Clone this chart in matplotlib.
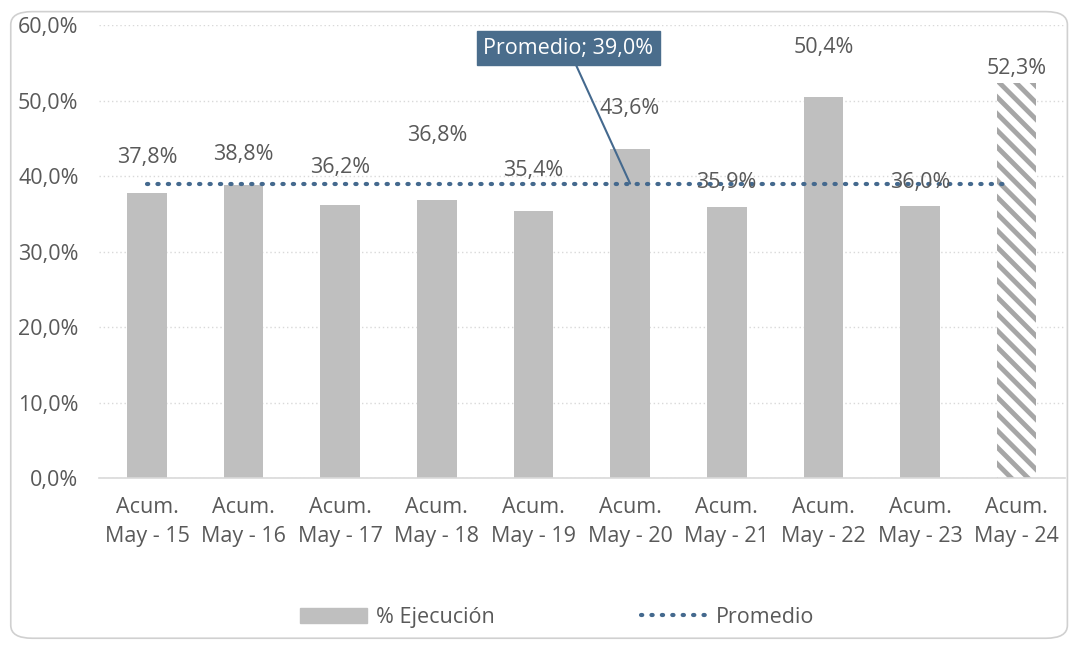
import matplotlib.pyplot as plt
from matplotlib.patches import FancyBboxPatch, Patch
from matplotlib.lines import Line2D

plt.rcParams['font.family'] = ['Open Sans', 'DejaVu Sans']
plt.rcParams['hatch.linewidth'] = 3.5
plt.rcParams['hatch.color'] = '#a6a6a6'

# ---------------- datos ---------------- #
periodos = ['Acum.\nMay - 15', 'Acum.\nMay - 16', 'Acum.\nMay - 17', 'Acum.\nMay - 18',
            'Acum.\nMay - 19', 'Acum.\nMay - 20', 'Acum.\nMay - 21', 'Acum.\nMay - 22',
            'Acum.\nMay - 23', 'Acum.\nMay - 24']
ejecucion = [37.8, 38.8, 36.2, 36.8, 35.4, 43.6, 35.9, 50.4, 36.0, 52.3]
promedio = 39.0
# altura donde Excel dejó cada etiqueta
altura_etiqueta = [42.4, 42.8, 41.1, 45.4, 40.7, 49.0, 39.1, 57.0, 39.1, 54.3]

gris = '#bfbfbf'
azul = '#44698e'
texto = '#595959'
fs = 15.5

fig = plt.figure(figsize=(10.76, 6.46), dpi=100)
marco = FancyBboxPatch((0.01, 0.012), 0.982, 0.97, boxstyle='round,pad=0,rounding_size=0.02',
                       transform=fig.transFigure, fc='white', ec='#d0d0d0', lw=1.2, zorder=-5)
fig.patches.append(marco)
ax = fig.add_axes([0.0917, 0.26, 0.898, 0.7013])
ax.patch.set_alpha(0)

x = list(range(len(periodos)))
ax.bar(x[:-1], ejecucion[:-1], width=0.41, color=gris, zorder=2)
ax.bar(x[-1], ejecucion[-1], width=0.41, color='white', hatch='\\\\', edgecolor='#a6a6a6', lw=0, zorder=2)

ax.plot([x[0], x[-1] - 0.07], [promedio, promedio], linestyle=(0, (0.3, 2.2)), dash_capstyle='round',
        color=azul, lw=3, zorder=3)

for xi, v, h in zip(x, ejecucion, altura_etiqueta):
    ax.text(xi, h, f'{v:.1f}%'.replace('.', ','), ha='center', va='center', fontsize=fs, color=texto, zorder=4)

ax.annotate('Promedio; 39,0%', xy=(5, promedio), xytext=(4.36, 56.95), ha='center', va='center',
            fontsize=fs, color='white', zorder=5,
            bbox=dict(boxstyle='square,pad=0.3', fc='#4a6d8c', ec='#4a6d8c'),
            arrowprops=dict(arrowstyle='-', color=azul, lw=1.5, shrinkA=0, shrinkB=0))

ax.set_xlim(-0.5, 9.5)
ax.set_ylim(0, 60)
ax.set_yticks(range(0, 61, 10))
ax.set_yticklabels([f'{t},0%' for t in range(0, 61, 10)])
ax.set_xticks(x)
ax.set_xticklabels(periodos, linespacing=1.45)
ax.tick_params(length=0, labelsize=fs, colors=texto)
ax.tick_params(axis='x', pad=14)
ax.tick_params(axis='y', pad=14.5)
ax.grid(axis='y', linestyle=(0, (1, 2)), color='#d9d9d9', lw=1, zorder=0)
for s in ['top', 'right', 'left']:
    ax.spines[s].set_visible(False)
ax.spines['bottom'].set_color('#d9d9d9')
ax.spines['bottom'].set_linewidth(1.2)

handles = [Patch(color=gris, label='% Ejecución'),
           Line2D([], [], color=azul, lw=3, linestyle=(0, (0.3, 2.2)), dash_capstyle='round', label='Promedio')]
fig.legend(handles=handles, loc='center', bbox_to_anchor=(0.518, 0.044), ncol=2, frameon=False,
           fontsize=fs, labelcolor=texto, handlelength=3.1, handleheight=0.75, columnspacing=6.8, handletextpad=0.4)

fig.savefig('out.png', dpi=100)
